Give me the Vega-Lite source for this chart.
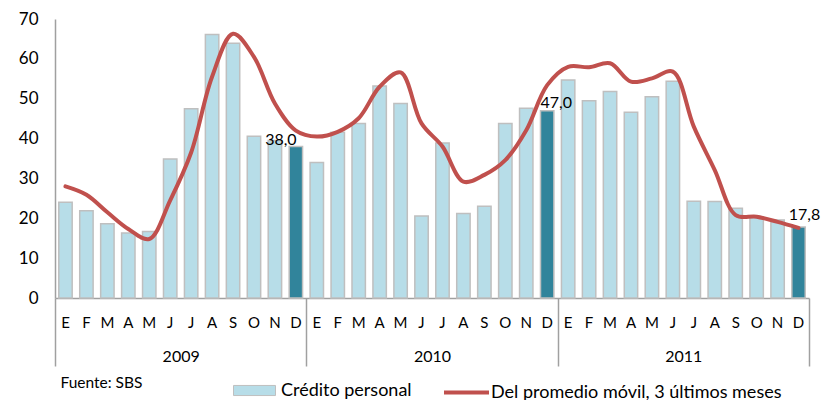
{
  "$schema": "https://vega.github.io/schema/vega-lite/v6.json",
  "width": 754,
  "height": 279,
  "autosize": "none",
  "padding": {"left": 55, "top": 19, "right": 12, "bottom": 102},
  "config": {
    "view": {"stroke": null},
    "font": "Lato",
    "axis": {"labelOverlap": false},
    "axisY": {"labelOverlap": false, "tickCount": 8},
    "locale": {"number": {"decimal": ",", "thousands": ".", "grouping": [3], "currency": ["", ""]}}
  },
  "layer": [
    {
      "data": {
        "values": [
          {"periodo": "2009-01", "anio": 2009, "mes": "E", "credito": 24.0, "promedio": 28.0},
          {"periodo": "2009-02", "anio": 2009, "mes": "F", "credito": 21.9, "promedio": 25.9},
          {"periodo": "2009-03", "anio": 2009, "mes": "M", "credito": 18.6, "promedio": 21.5},
          {"periodo": "2009-04", "anio": 2009, "mes": "A", "credito": 16.3, "promedio": 17.3},
          {"periodo": "2009-05", "anio": 2009, "mes": "M", "credito": 16.7, "promedio": 14.8},
          {"periodo": "2009-06", "anio": 2009, "mes": "J", "credito": 34.9, "promedio": 24.5},
          {"periodo": "2009-07", "anio": 2009, "mes": "J", "credito": 47.5, "promedio": 36.5},
          {"periodo": "2009-08", "anio": 2009, "mes": "A", "credito": 66.1, "promedio": 55.5},
          {"periodo": "2009-09", "anio": 2009, "mes": "S", "credito": 63.9, "promedio": 66.3},
          {"periodo": "2009-10", "anio": 2009, "mes": "O", "credito": 40.6, "promedio": 60.5},
          {"periodo": "2009-11", "anio": 2009, "mes": "N", "credito": 39.5, "promedio": 48.8},
          {"periodo": "2009-12", "anio": 2009, "mes": "D", "credito": 38.0, "promedio": 42.0},
          {"periodo": "2010-01", "anio": 2010, "mes": "E", "credito": 34.0, "promedio": 40.5},
          {"periodo": "2010-02", "anio": 2010, "mes": "F", "credito": 41.6, "promedio": 41.7},
          {"periodo": "2010-03", "anio": 2010, "mes": "M", "credito": 43.8, "promedio": 45.1},
          {"periodo": "2010-04", "anio": 2010, "mes": "A", "credito": 53.2, "promedio": 53.0},
          {"periodo": "2010-05", "anio": 2010, "mes": "M", "credito": 48.8, "promedio": 56.6},
          {"periodo": "2010-06", "anio": 2010, "mes": "J", "credito": 20.6, "promedio": 43.8},
          {"periodo": "2010-07", "anio": 2010, "mes": "J", "credito": 38.9, "promedio": 38.0},
          {"periodo": "2010-08", "anio": 2010, "mes": "A", "credito": 21.2, "promedio": 29.2},
          {"periodo": "2010-09", "anio": 2010, "mes": "S", "credito": 23.0, "promedio": 30.9},
          {"periodo": "2010-10", "anio": 2010, "mes": "O", "credito": 43.8, "promedio": 34.6},
          {"periodo": "2010-11", "anio": 2010, "mes": "N", "credito": 47.6, "promedio": 42.1},
          {"periodo": "2010-12", "anio": 2010, "mes": "D", "credito": 47.0, "promedio": 53.4},
          {"periodo": "2011-01", "anio": 2011, "mes": "E", "credito": 54.7, "promedio": 58.0},
          {"periodo": "2011-02", "anio": 2011, "mes": "F", "credito": 49.5, "promedio": 57.9},
          {"periodo": "2011-03", "anio": 2011, "mes": "M", "credito": 51.8, "promedio": 58.9},
          {"periodo": "2011-04", "anio": 2011, "mes": "A", "credito": 46.6, "promedio": 54.3},
          {"periodo": "2011-05", "anio": 2011, "mes": "M", "credito": 50.5, "promedio": 55.1},
          {"periodo": "2011-06", "anio": 2011, "mes": "J", "credito": 54.4, "promedio": 56.8},
          {"periodo": "2011-07", "anio": 2011, "mes": "J", "credito": 24.3, "promedio": 43.0},
          {"periodo": "2011-08", "anio": 2011, "mes": "A", "credito": 24.2, "promedio": 32.1},
          {"periodo": "2011-09", "anio": 2011, "mes": "S", "credito": 22.5, "promedio": 20.8},
          {"periodo": "2011-10", "anio": 2011, "mes": "O", "credito": 20.4, "promedio": 20.4},
          {"periodo": "2011-11", "anio": 2011, "mes": "N", "credito": 19.6, "promedio": 19.1},
          {"periodo": "2011-12", "anio": 2011, "mes": "D", "credito": 17.8, "promedio": 17.6}
        ]
      },
      "encoding": {
        "x": {
          "field": "periodo",
          "type": "ordinal",
          "sort": null,
          "scale": {"paddingInner": 0.36, "paddingOuter": 0.18},
          "axis": {
            "title": null,
            "orient": "bottom",
            "labelAngle": 0,
            "labelExpr": "['E','F','M','A','M','J','J','A','S','O','N','D'][parseInt(substring(datum.value, 5, 7)) - 1]",
            "ticks": false,
            "tickSize": 0,
            "labelPadding": 17,
            "labelFont": "Lato",
            "labelFontSize": 15,
            "labelColor": "#000000",
            "domainColor": "#a0a0a0",
            "domainWidth": 1.5
          }
        }
      },
      "layer": [
        {
          "mark": {"type": "bar", "stroke": "#bfbfbf", "strokeWidth": 1.5},
          "encoding": {
            "y": {
              "field": "credito",
              "type": "quantitative",
              "scale": {"domain": [0, 70], "nice": false},
              "axis": {
                "title": null,
                "values": [0, 10, 20, 30, 40, 50, 60, 70],
                "grid": false,
                "ticks": false,
                "tickSize": 0,
                "labelOverlap": false,
                "labelBound": false,
                "labelFlush": false,
                "labelPadding": 17,
                "labelFont": "Lato",
                "labelFontSize": 17,
                "labelColor": "#000000",
                "domainColor": "#a0a0a0",
                "domainWidth": 1.5
              }
            },
            "fill": {
              "condition": {"test": "datum.mes === 'D'", "value": "#31849b"},
              "datum": "Crédito personal",
              "type": "nominal",
              "scale": {"domain": ["Crédito personal"], "range": ["#b7dde8"]},
              "legend": {
                "title": null,
                "orient": "none",
                "legendX": 178,
                "legendY": 350,
                "padding": 0,
                "symbolType": "M-1,-0.24H1V0.24H-1Z",
                "symbolSize": 1764,
                "symbolStrokeColor": "#bfbfbf",
                "symbolStrokeWidth": 1,
                "symbolOpacity": 1,
                "labelFont": "Lato",
                "labelFontSize": 18,
                "labelColor": "#000000",
                "labelOffset": 5,
                "labelLimit": 400
              }
            }
          }
        },
        {
          "mark": {"type": "line", "interpolate": "catmull-rom", "strokeWidth": 4, "strokeCap": "round"},
          "encoding": {
            "y": {"field": "promedio", "type": "quantitative"},
            "stroke": {
              "datum": "Del promedio móvil, 3 últimos meses",
              "type": "nominal",
              "scale": {"domain": ["Del promedio móvil, 3 últimos meses"], "range": ["#c0504d"]},
              "legend": {
                "title": null,
                "orient": "none",
                "legendX": 387,
                "legendY": 349,
                "padding": 0,
                "symbolType": "stroke",
                "symbolSize": 2025,
                "symbolStrokeWidth": 4,
                "labelFont": "Lato",
                "labelFontSize": 18,
                "labelColor": "#000000",
                "labelOffset": 0,
                "labelLimit": 400
              }
            }
          }
        },
        {
          "transform": [{"filter": "datum.periodo === '2009-12'"}],
          "mark": {"type": "text", "font": "Lato", "fontSize": 16, "color": "#000000", "baseline": "alphabetic", "dx": -15, "dy": -2},
          "encoding": {
            "y": {"field": "credito", "type": "quantitative"},
            "text": {"field": "credito", "type": "quantitative", "format": ".1f"}
          }
        },
        {
          "transform": [{"filter": "datum.periodo === '2010-12'"}],
          "mark": {"type": "text", "font": "Lato", "fontSize": 16, "color": "#000000", "baseline": "alphabetic", "dx": 9, "dy": -3},
          "encoding": {
            "y": {"field": "credito", "type": "quantitative"},
            "text": {"field": "credito", "type": "quantitative", "format": ".1f"}
          }
        },
        {
          "transform": [{"filter": "datum.periodo === '2011-12'"}],
          "mark": {"type": "text", "font": "Lato", "fontSize": 16, "color": "#000000", "baseline": "alphabetic", "dx": 6, "dy": -7},
          "encoding": {
            "y": {"field": "credito", "type": "quantitative"},
            "text": {"field": "credito", "type": "quantitative", "format": ".1f"}
          }
        }
      ]
    },
    {
      "data": {"values": [{"anio": 2009}, {"anio": 2010}, {"anio": 2011}, {"anio": 2012}]},
      "mark": {"type": "rule", "opacity": 0},
      "encoding": {
        "x": {
          "field": "anio",
          "type": "quantitative",
          "scale": {"domain": [2009, 2012], "nice": false, "zero": false},
          "axis": {
            "title": "Fuente: SBS",
            "titleX": 5,
            "titleY": 89,
            "titleAlign": "left",
            "titleBaseline": "alphabetic",
            "titleFont": "Lato",
            "titleFontSize": 15.5,
            "titleFontWeight": "normal",
            "titleColor": "#000000",
            "orient": "bottom",
            "values": [2009, 2010, 2011, 2012],
            "format": "d",
            "labelExpr": "datum.value < 2012 ? datum.label : ''",
            "domain": false,
            "grid": false,
            "ticks": true,
            "tickSize": 68,
            "tickColor": "#a0a0a0",
            "tickWidth": 1.5,
            "labelOffset": 125.67,
            "labelPadding": -18,
            "labelBound": false,
            "labelFlush": false,
            "labelOverlap": false,
            "labelFont": "Lato",
            "labelFontSize": 16,
            "labelColor": "#000000"
          }
        }
      }
    }
  ],
  "resolve": {"scale": {"x": "independent"}, "axis": {"x": "independent"}}
}
